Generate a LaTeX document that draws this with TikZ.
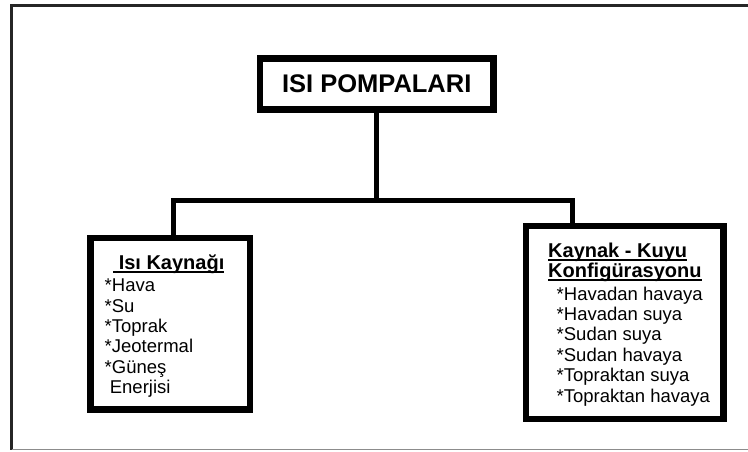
\documentclass[tikz,border=0pt]{standalone}
\usepackage{fontspec}
\setmainfont{Liberation Sans}
\newcommand\myul[1]{\setbox0\hbox{#1}\rlap{\rule[-3pt]{\wd0}{1.6pt}}\box0}
\tikzset{
  x=1pt, y=-1pt,
  frame/.style={line width=3pt, black!85},
  framelow/.style={line width=1.5pt, black!45},
  box/.style={draw, line width=6.5pt, inner sep=0pt, fill=white},
  conn/.style={line width=5pt, line join=miter},
  item/.style={anchor=base west, inner sep=0pt, font=\fontsize{18.5}{20}\selectfont},
  ttl/.style={anchor=base west, inner sep=0pt, font=\fontsize{20}{22}\selectfont\bfseries},
}
\begin{document}
\begin{tikzpicture}
\useasboundingbox (0,0) rectangle (748,451);
% outer frame
\draw[frame] (748,5) -- (11.5,5) -- (11.5,449.5);
\draw[framelow] (11.5,449.5) -- (748,449.5);
% boxes
\node[box, minimum width=233.3pt, minimum height=51pt,
      font=\fontsize{25.5}{28}\selectfont\bfseries] (top) at (376.7,83.8) {ISI POMPALARI};
\node[box, minimum width=159.5pt, minimum height=171.7pt] (src) at (170.25,323.85) {};
\node[box, minimum width=197.7pt, minimum height=193pt] (snk) at (624.85,322.5) {};
% connectors
\coordinate (jl) at (173.3,200.8);
\coordinate (jr) at (572,200.8);
\draw[conn] (top.south) -- (top.south |- jl);
\draw[conn] (jl |- src.north) -- (jl) -- (jr) -- (jr |- snk.north);
% left texts
\node[ttl] (s0) at (113,269.5) {\myul{\ Isı Kaynağı}};
\node[item] (s1) at (104.5,291.6) {*Hava};
\node[item] (s2) at (104.5,312.0) {*Su};
\node[item] (s3) at (104.5,332.4) {*Toprak};
\node[item] (s4) at (104.5,352.8) {*Jeotermal};
\node[item] (s5) at (104.5,373.2) {*Güneş};
\node[item] (s6) at (104.5,393.6) {\ Enerjisi};
% right texts
\node[ttl] (k0) at (548,257.7) {\myul{Kaynak - Kuyu}};
\node[ttl] (k1) at (548,277.7) {\myul{Konfigürasyonu}};
\node[item] (k2) at (556.5,300.0) {*Havadan havaya};
\node[item] (k3) at (556.5,320.4) {*Havadan suya};
\node[item] (k4) at (556.5,340.8) {*Sudan suya};
\node[item] (k5) at (556.5,361.2) {*Sudan havaya};
\node[item] (k6) at (556.5,381.6) {*Topraktan suya};
\node[item] (k7) at (556.5,402.0) {*Topraktan havaya};
\end{tikzpicture}
\end{document}
